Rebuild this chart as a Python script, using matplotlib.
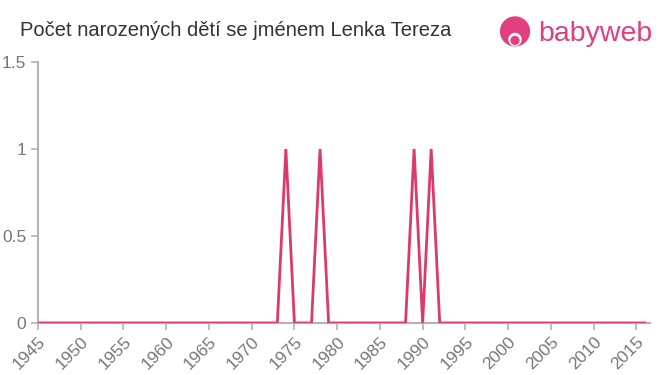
import matplotlib.pyplot as plt
from matplotlib.patches import Circle

years = list(range(1945, 2017))
births = [0] * len(years)
peaks = {1974: 1, 1978: 1, 1989: 1, 1991: 1}
for y, v in peaks.items():
    births[years.index(y)] = v

x_ticks = list(range(1945, 2016, 5))
y_ticks = [0, 0.5, 1, 1.5]
y_labels = ["0", "0.5", "1", "1.5"]

title = "Počet narozených dětí se jménem Lenka Tereza"
line_color = "#dc3a6b"
axis_color = "#b3b3b3"
text_color = "#777777"

plt.rcParams["font.family"] = ["Liberation Sans", "DejaVu Sans"]

fig = plt.figure(figsize=(6.6, 3.75), dpi=100)
ax = fig.add_axes([38 / 660, 1 - 323 / 375, 612 / 660, 261 / 375])

ax.plot(years, births, color=line_color, linewidth=2, solid_joinstyle="miter", zorder=3)

ax.set_xlim(1945, 2016.6)
ax.set_ylim(0, 1.5)
ax.set_xticks(x_ticks)
ax.set_xticklabels([str(t) for t in x_ticks], rotation=45, ha="right",
                   rotation_mode="anchor", fontsize=12.5, color=text_color)
ax.set_yticks(y_ticks)
ax.set_yticklabels(y_labels, fontsize=12.5, color=text_color)
ax.tick_params(axis="both", colors=axis_color, length=5, width=1.2, labelcolor=text_color)
ax.tick_params(axis="x", pad=3)

for side in ("top", "right"):
    ax.spines[side].set_visible(False)
for side in ("left", "bottom"):
    ax.spines[side].set_color(axis_color)
    ax.spines[side].set_linewidth(1.5)
ax.spines["bottom"].set_zorder(2)

fig.text(20 / 660, 1 - 31 / 375, title, fontsize=14.5, color="#333333", va="center", ha="left")

# babyweb logo
logo_color = "#e0407f"
logo_ax = fig.add_axes([500 / 660, 1 - 50 / 375, 30 / 660, 35 / 375])
logo_ax.set_xlim(0, 1)
logo_ax.set_ylim(0, 35 / 30)
logo_ax.set_aspect("equal")
logo_ax.axis("off")
logo_ax.add_patch(Circle((0.5, 0.62), 0.48, color=logo_color))
logo_ax.add_patch(Circle((0.5, 0.35), 0.2, color="white"))
logo_ax.add_patch(Circle((0.5, 0.32), 0.13, color=logo_color))
fig.text(538 / 660, 1 - 34 / 375, "babyweb", fontsize=20.5, color=logo_color,
         va="center", ha="left")

fig.savefig("out.png", dpi=100)
